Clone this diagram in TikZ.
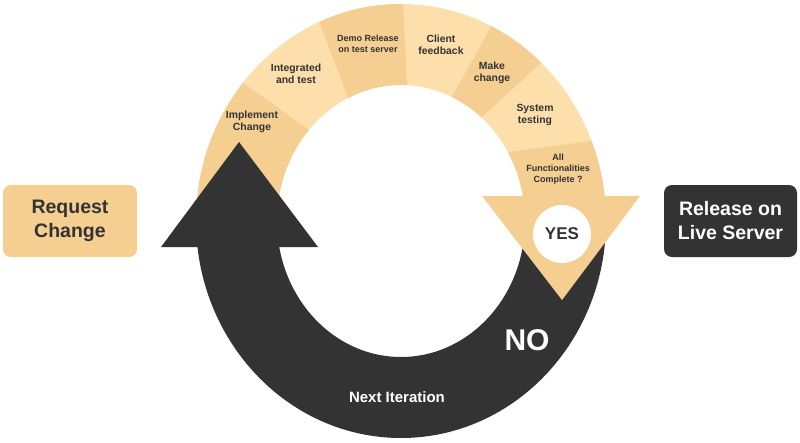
\documentclass[tikz,border=0pt]{standalone}
\usepackage{fontspec}
\setmainfont{Liberation Sans}
\usetikzlibrary{calc}
\definecolor{beigelight}{RGB}{252,223,170}
\definecolor{beigedark}{RGB}{245,206,145}
\definecolor{ringblack}{RGB}{51,51,51}
\definecolor{textgray}{RGB}{51,51,51}

\begin{document}
\begin{tikzpicture}[x=1pt,y=1pt]
\tikzstyle{every node}+=[inner sep=0pt]
\tikzstyle{ringpath}=[insert path={(401,-221) ellipse [x radius=205pt, y radius=217pt] (401,-221) ellipse [x radius=124pt, y radius=136pt]}]
\tikzstyle{phase}=[align=center, text=textgray, font=\bfseries\fontsize{10.4}{12}\selectfont]
\tikzstyle{phasesmall}=[phase, font=\bfseries\fontsize{9}{11}\selectfont]
\tikzstyle{sidebox}=[rounded corners=8pt, minimum width=134pt, minimum height=72pt, align=center, font=\bfseries\fontsize{19.5}{24}\selectfont]
\useasboundingbox (0,0) rectangle (800,-442);
% borders between the phases
\coordinate (b1o) at (239,-80);
\coordinate (b1i) at (305,-127);
\coordinate (b2o) at (318,-18);
\coordinate (b2i) at (347,-95);
\coordinate (b3o) at (403,-3);
\coordinate (b3i) at (407,-85);
\coordinate (b4o) at (492,-25);
\coordinate (b4i) at (452,-97);
\coordinate (b5o) at (542,-62);
\coordinate (b5i) at (482,-117);
\coordinate (b6o) at (592,-141);
\coordinate (b6i) at (508,-152);
% lower half of the ring
\begin{scope}
\clip (150,-196) rectangle (660,-442);
\fill [ringblack, even odd rule, ringpath];
\end{scope}
% upper half of the ring
\begin{scope}
\clip (150,0) rectangle (660,-198);
\fill [beigelight, even odd rule, ringpath];
\begin{scope}
\clip ($(b1i)!-0.5!(b1o)$) -- ($(b1o)!-0.3!(b1i)$) -- (150,-40) -- (150,-260) -- (340,-260) -- cycle;
\fill [beigedark, even odd rule, ringpath];
\end{scope}
\begin{scope}
\clip ($(b2i)!-0.5!(b2o)$) -- ($(b2o)!-0.3!(b2i)$) -- ($(b3o)!-0.3!(b3i)$) -- ($(b3i)!-0.5!(b3o)$) -- cycle;
\fill [beigedark, even odd rule, ringpath];
\end{scope}
\begin{scope}
\clip ($(b4i)!-0.5!(b4o)$) -- ($(b4o)!-0.3!(b4i)$) -- ($(b5o)!-0.3!(b5i)$) -- ($(b5i)!-0.5!(b5o)$) -- cycle;
\fill [beigedark, even odd rule, ringpath];
\end{scope}
\begin{scope}
\clip ($(b6i)!-0.5!(b6o)$) -- ($(b6o)!-0.3!(b6i)$) -- (660,-137) -- (660,-260) -- (466,-260) -- cycle;
\fill [beigedark, even odd rule, ringpath];
\end{scope}
\end{scope}
% arrow heads
\fill [ringblack] (161,-247) -- (318,-247) -- (239,-142) -- cycle;
\fill [beigedark] (482,-196) -- (640,-196) -- (562,-300) -- cycle;
% phases
\node [phase] (implement) at (252,-122) {Implement\\Change};
\node [phase] (integrated) at (296,-74) {Integrated\\and test};
\node [phasesmall] (demo) at (368,-44) {Demo Release\\on test server};
\node [phase] (client) at (441,-45) {Client\\feedback};
\node [phase] (make) at (492,-73) {Make\\change};
\node [phase] (system) at (535,-115) {System\\testing};
\node [phasesmall] (allfunc) at (558,-169) {All\\Functionalities\\Complete ?};
\node [circle, fill=white, minimum size=58pt, text=textgray, font=\bfseries\fontsize{17}{20}\selectfont] (yes) at (562,-234) {YES};
\node [text=white, font=\bfseries\fontsize{30}{36}\selectfont] (no) at (527,-340) {NO};
\node [text=white, font=\bfseries\fontsize{15}{18}\selectfont] (next) at (397,-397) {Next Iteration};
% start and end
\node [sidebox, fill=beigedark, text=textgray] (request) at (70,-221) {Request\\Change};
\node [sidebox, fill=ringblack, text=white, minimum width=133pt] (release) at (730.5,-221) {Release on\\Live Server};
\end{tikzpicture}
\end{document}
